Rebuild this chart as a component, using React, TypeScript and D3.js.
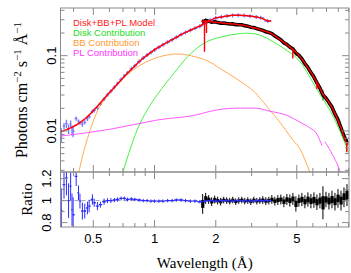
import * as d3 from "d3";

// blue (low-energy instrument) data: wavelength, model, data/model ratio, error
const blueLam = [0.348, 0.359, 0.369, 0.378, 0.387, 0.393, 0.398, 0.412, 0.423, 0.43, 0.442, 0.454, 0.468, 0.477, 0.495, 0.505, 0.524, 0.542, 0.565, 0.587, 0.61, 0.635, 0.657, 0.685, 0.71, 0.736, 0.77, 0.8, 0.84, 0.88, 0.92, 0.96, 1.0, 1.05, 1.1, 1.16, 1.22, 1.28, 1.35, 1.42, 1.5, 1.58, 1.67, 1.77, 1.88, 2.0, 2.13, 2.27, 2.42, 2.58, 2.76, 2.95, 3.16, 3.33, 3.6];
const blueModel = [0.0098, 0.0101, 0.0104, 0.0107, 0.011, 0.0112, 0.0114, 0.012, 0.0125, 0.0129, 0.0136, 0.0144, 0.0155, 0.0163, 0.018, 0.0191, 0.0213, 0.0237, 0.0268, 0.0302, 0.0338, 0.038, 0.042, 0.0475, 0.0528, 0.0585, 0.066, 0.073, 0.083, 0.093, 0.102, 0.111, 0.12, 0.13, 0.14, 0.151, 0.163, 0.175, 0.19, 0.204, 0.218, 0.232, 0.248, 0.27, 0.295, 0.318, 0.327, 0.336, 0.344, 0.345, 0.341, 0.336, 0.327, 0.318, 0.289];
const blueRatio = [0.905, 1.145, 1.205, 1.0, 1.13, 0.917, 0.872, 1.22, 1.07, 0.995, 0.905, 0.905, 0.933, 0.95, 1.01, 0.98, 0.95, 0.963, 0.99, 1.0, 1.0, 1.005, 1.01, 1.02, 1.02, 1.01, 1.015, 1.01, 1.005, 1.0, 1.0, 0.995, 0.995, 0.995, 0.995, 1.0, 1.0, 1.005, 1.005, 1.0, 0.995, 0.995, 0.99, 0.995, 1.0, 0.995, 1.0, 1.0, 0.995, 1.0, 1.0, 0.995, 1.0, 1.0, 1.0];
const blueErr = [0.2, 0.12, 0.15, 0.15, 0.12, 0.14, 0.15, 0.08, 0.06, 0.06, 0.07, 0.06, 0.05, 0.05, 0.04, 0.03, 0.03, 0.02, 0.02, 0.015, 0.015, 0.012, 0.012, 0.01, 0.01, 0.01, 0.008, 0.008, 0.008, 0.008, 0.008, 0.008, 0.008, 0.008, 0.008, 0.008, 0.008, 0.008, 0.008, 0.008, 0.008, 0.008, 0.008, 0.008, 0.008, 0.008, 0.008, 0.008, 0.008, 0.008, 0.008, 0.01, 0.01, 0.01, 0.012];

// black (high-energy instrument) data
const blackLam = [1.724, 1.783, 1.845, 1.909, 1.975, 2.043, 2.114, 2.187, 2.263, 2.342, 2.423, 2.506, 2.593, 2.683, 2.776, 2.872, 2.972, 3.074, 3.181, 3.291, 3.404, 3.523, 3.645, 3.771, 3.901, 4.036, 4.176, 4.321, 4.47, 4.624, 4.785, 4.95, 5.122, 5.298, 5.482, 5.672, 5.868, 6.071, 6.281, 6.499, 6.724, 6.957, 7.197, 7.446, 7.704, 7.971, 8.247, 8.531, 8.826];
const blackModel = [0.287, 0.288, 0.285, 0.282, 0.279, 0.276, 0.273, 0.27, 0.267, 0.265, 0.263, 0.261, 0.258, 0.256, 0.252, 0.247, 0.241, 0.236, 0.23, 0.223, 0.216, 0.209, 0.203, 0.195, 0.184, 0.172, 0.161, 0.15, 0.14, 0.13, 0.121, 0.112, 0.101, 0.09, 0.079, 0.069, 0.06, 0.052, 0.0441, 0.037, 0.0307, 0.027, 0.024, 0.0205, 0.017, 0.0138, 0.011, 0.0083, 0.0067];
const blackRatio = [0.97, 1.02, 1.01, 0.99, 1.01, 1.0, 0.99, 1.005, 1.0, 0.995, 1.005, 0.99, 1.0, 1.005, 0.995, 1.0, 0.99, 1.005, 0.995, 1.0, 1.005, 0.995, 1.0, 1.01, 0.995, 1.005, 1.01, 0.99, 1.01, 1.0, 1.015, 0.97, 1.0, 1.01, 0.99, 1.01, 0.995, 1.005, 0.985, 1.0, 0.98, 1.01, 0.995, 1.01, 0.99, 1.02, 1.0, 1.03, 1.05];
const blackErr = [0.09, 0.05, 0.04, 0.04, 0.035, 0.035, 0.035, 0.03, 0.03, 0.03, 0.03, 0.03, 0.03, 0.03, 0.03, 0.03, 0.03, 0.03, 0.03, 0.03, 0.035, 0.035, 0.035, 0.04, 0.04, 0.045, 0.045, 0.05, 0.05, 0.055, 0.055, 0.07, 0.055, 0.06, 0.06, 0.065, 0.065, 0.07, 0.07, 0.07, 0.15, 0.07, 0.075, 0.08, 0.08, 0.085, 0.09, 0.09, 0.1];

// narrow absorption features in the model
const dipLam = [1.76, 1.8, 3.04, 4.78, 6.28, 8.8];
const dipTop = [0.289, 0.288, 0.239, 0.121, 0.0441, 0.0069];
const dipBottom = [0.113, 0.2, 0.225, 0.092, 0.036, 0.0052];

// model components
const diskLam = [0.68, 0.75, 0.825, 0.92, 1.035, 1.254, 1.454, 1.763, 2.14, 2.56, 2.8, 3.11, 3.69, 4.27, 5.18, 6.28, 7.53, 9.14];
const diskFlux = [0.0022, 0.0052, 0.0106, 0.019, 0.0307, 0.0597, 0.097, 0.148, 0.178, 0.195, 0.199, 0.195, 0.162, 0.127, 0.0834, 0.0357, 0.0158, 0.0047];
const bbLam = [0.42, 0.45, 0.468, 0.5, 0.524, 0.56, 0.607, 0.66, 0.711, 0.78, 0.853, 0.95, 1.035, 1.15, 1.254, 1.35, 1.454, 1.6, 1.763, 1.95, 2.14, 2.56, 3.11, 3.56, 4.27, 4.8, 5.18, 5.6, 5.9];
const bbFlux = [0.0025, 0.0055, 0.0079, 0.0135, 0.0185, 0.025, 0.033, 0.042, 0.052, 0.064, 0.075, 0.087, 0.095, 0.102, 0.105, 0.105, 0.102, 0.096, 0.0886, 0.077, 0.0654, 0.0483, 0.0326, 0.0213, 0.0116, 0.0075, 0.0058, 0.0036, 0.0025];
const plLam = [0.34, 0.6, 1.035, 1.7, 1.763, 2.56, 3.11, 3.69, 4.5, 5.18, 5.8, 6.28, 6.65, 6.75, 6.88, 7.53, 8.15, 8.3];
const plFlux: (number | null)[] = [0.0085, 0.0105, 0.014, 0.017, 0.0175, 0.0201, 0.0201, 0.0183, 0.016, 0.0131, 0.011, 0.0091, 0.0064, null, 0.0072, 0.0047, 0.0029, 0.0024];

const xLabels = [0.5, 1, 2, 5];
const yLabels = [0.01, 0.1];
const ratioLabels = [0.8, 1, 1.2];
const ratioMinor = [0.9, 1.1];

const legend = [
  { text: "Disk+BB+PL Model", color: "#ff2020" },
  { text: "Disk Contribution", color: "#22dd22" },
  { text: "BB Contribution", color: "#ff9933" },
  { text: "PL Contribution", color: "#ff33ff" },
];

const L = 60.5, R = 349, T = 8, M = 172, B = 227;
const frame = "#8a8a8a";

function binEdges(lam: number[]) {
  return lam.map((l, i) => {
    const lo = i > 0 ? Math.sqrt(lam[i - 1] * l) : (l * l) / Math.sqrt(l * lam[1]);
    const hi = i < lam.length - 1 ? Math.sqrt(l * lam[i + 1]) : (l * l) / Math.sqrt(lam[i - 1] * l);
    return [lo, hi];
  });
}

export default function App() {
  const x = d3.scaleLog().domain([0.345, 9.03]).range([L, R]);
  const y = d3.scaleLog().domain([0.00285, 0.43]).range([M, T]);
  const yr = d3.scaleLinear().domain([0.76, 1.26]).range([B, M]);

  const xt = x.ticks().filter((t) => t > 0.345 && t < 9.03);
  const yt = y.ticks().filter((t) => t > 0.00285 && t < 0.43);
  const isMajor = (t: number, majors: number[]) => majors.some((m) => Math.abs(m - t) < 1e-9);

  const blueEdges = binEdges(blueLam);
  const blackEdges = binEdges(blackLam);

  const lineOf = (pts: [number, number][]) => d3.line()(pts) ?? "";
  // model as line through bin centres, closed off to the outer edges of the first/last bins
  const modelPath = (lam: number[], vals: number[], edges: number[][]) => {
    const n = lam.length;
    const pts: [number, number][] = [[x(edges[0][0]), y(vals[0])]];
    lam.forEach((l, i) => pts.push([x(l), y(vals[i])]));
    pts.push([x(edges[n - 1][1]), y(vals[n - 1])]);
    return lineOf(pts);
  };

  const compLine = (lam: number[], vals: (number | null)[]) =>
    d3
      .line<number>()
      .defined((i) => vals[i] != null)
      .x((i) => x(lam[i]))
      .y((i) => y(vals[i] as number))
      .curve(d3.curveMonotoneX)(lam.map((_, i) => i)) ?? "";

  const blackFluxPts: [number, number][] = blackLam.map((l, i) => [x(l), y(blackModel[i] * blackRatio[i])]);

  const sans = "Liberation Sans, Arial, sans-serif";
  const serif = "Liberation Serif, Times New Roman, serif";

  return (
    <svg width={351} height={273} style={{ position: "absolute", left: 0, top: 0 }}>
      <defs>
        <clipPath id="topClip">
          <rect x={L} y={T} width={R - L} height={M - T} />
        </clipPath>
        <clipPath id="ratClip">
          <rect x={L} y={M} width={R - L} height={B - M} />
        </clipPath>
      </defs>
      <rect width={351} height={273} fill="white" />

      {/* top panel */}
      <g clipPath="url(#topClip)">
        <path d={lineOf(blackFluxPts)} fill="none" stroke="black" strokeWidth={3.6} />
        {blackLam.map((l, i) => {
          const f = blackModel[i] * blackRatio[i];
          const e = blackErr[i];
          return (
            <line key={"bt" + i} x1={x(l)} x2={x(l)} y1={y(f * (1 + e))} y2={y(f * (1 - e))} stroke="black" strokeWidth={1} />
          );
        })}
        {blueLam.map((l, i) => {
          const f = blueModel[i] * blueRatio[i];
          const e = blueErr[i] / blueRatio[i];
          const cy = y(f);
          return (
            <g key={"bu" + i} stroke="#7878ff" strokeWidth={1.3}>
              <line x1={x(blueEdges[i][0])} x2={x(blueEdges[i][1])} y1={cy} y2={cy} />
              <line x1={x(l)} x2={x(l)} y1={Math.min(y(f * (1 + e)), cy - 2)} y2={Math.max(y(f * (1 - e)), cy + 2)} />
            </g>
          );
        })}
        <path d={compLine(diskLam, diskFlux)} fill="none" stroke="#33ee33" strokeWidth={0.9} />
        <path d={compLine(bbLam, bbFlux)} fill="none" stroke="#ffa040" strokeWidth={0.9} />
        <path d={compLine(plLam, plFlux)} fill="none" stroke="#ff44ff" strokeWidth={0.9} />
        <path d={modelPath(blueLam, blueModel, blueEdges)} fill="none" stroke="#ff0000" strokeWidth={1.5} />
        <path d={modelPath(blackLam, blackModel, blackEdges)} fill="none" stroke="#ff0000" strokeWidth={1.5} />
        {dipLam.map((l, i) => (
          <line key={"dp" + i} x1={x(l)} x2={x(l)} y1={y(dipTop[i])} y2={y(dipBottom[i])} stroke="#ff0000" strokeWidth={1.4} />
        ))}
      </g>

      {/* ratio panel */}
      <line x1={L} x2={R} y1={yr(1)} y2={yr(1)} stroke="#a0a0a0" strokeDasharray="4,3" />
      <g clipPath="url(#ratClip)">
        {blackLam.map((l, i) => {
          const r = blackRatio[i];
          const e = blackErr[i];
          const x0 = x(blackEdges[i][0]);
          const x1 = x(blackEdges[i][1]);
          return (
            <g key={"br" + i}>
              <rect x={x0} width={x1 - x0 + 0.2} y={yr(r + e * 0.4)} height={yr(r - e * 0.4) - yr(r + e * 0.4)} fill="black" />
              <line x1={x(l)} x2={x(l)} y1={yr(r + e)} y2={yr(r - e)} stroke="black" strokeWidth={1} />
            </g>
          );
        })}
        {blueLam.map((l, i) => {
          const r = blueRatio[i];
          const e = blueErr[i];
          return (
            <g key={"rb" + i} stroke="#2a2aff" strokeWidth={1}>
              <line x1={x(blueEdges[i][0])} x2={x(blueEdges[i][1])} y1={yr(r)} y2={yr(r)} strokeWidth={1.4} />
              <line x1={x(l)} x2={x(l)} y1={yr(r + e) - 0.8} y2={yr(r - e) + 0.8} />
            </g>
          );
        })}
      </g>

      {/* frames */}
      <rect x={L} y={T} width={R - L} height={M - T} fill="none" stroke={frame} />
      <rect x={L} y={M} width={R - L} height={B - M} fill="none" stroke={frame} />

      {/* x ticks */}
      {xt.map((t, i) => {
        const len = isMajor(t, xLabels) ? 7 : 4;
        const xp = x(t);
        return (
          <g key={"xt" + i} stroke={frame}>
            <line x1={xp} x2={xp} y1={T} y2={T + len} />
            <line x1={xp} x2={xp} y1={M} y2={M - len} />
            <line x1={xp} x2={xp} y1={M} y2={M + len} />
            <line x1={xp} x2={xp} y1={B} y2={B - len} />
          </g>
        );
      })}
      {/* y ticks */}
      {yt.map((t, i) => {
        const len = isMajor(t, yLabels) ? 7 : 4;
        const yp = y(t);
        return (
          <g key={"yt" + i} stroke={frame}>
            <line x1={L} x2={L + len} y1={yp} y2={yp} />
            <line x1={R} x2={R - len} y1={yp} y2={yp} />
          </g>
        );
      })}
      {[...ratioLabels, ...ratioMinor].map((t, i) => {
        const len = isMajor(t, ratioLabels) ? 7 : 4;
        const yp = yr(t);
        return (
          <g key={"rt" + i} stroke={frame}>
            <line x1={L} x2={L + len} y1={yp} y2={yp} />
            <line x1={R} x2={R - len} y1={yp} y2={yp} />
          </g>
        );
      })}

      {/* tick labels */}
      {xLabels.map((t) => (
        <text key={"xl" + t} x={x(t)} y={243} textAnchor="middle" fontFamily={sans} fontSize={13}>
          {String(t)}
        </text>
      ))}
      {yLabels.map((t) => (
        <text key={"yl" + t} transform={`translate(56,${y(t)}) rotate(-90)`} textAnchor="middle" fontFamily={sans} fontSize={13}>
          {String(t)}
        </text>
      ))}
      {ratioLabels.map((t) => (
        <text key={"rl" + t} transform={`translate(51,${yr(t)}) rotate(-90)`} textAnchor="middle" fontFamily={sans} fontSize={13}>
          {String(t)}
        </text>
      ))}

      {/* axis titles */}
      <text x={(L + R) / 2} y={268} textAnchor="middle" fontFamily={serif} fontSize={15}>
        Wavelength (Å)
      </text>
      <text transform={`translate(27,${(T + M) / 2}) rotate(-90)`} textAnchor="middle" fontFamily={serif} fontSize={16}>
        Photons cm<tspan dy={-6} fontSize={11}>−2</tspan>
        <tspan dy={6}> s</tspan>
        <tspan dy={-6} fontSize={11}>−1</tspan>
        <tspan dy={6}> Å</tspan>
        <tspan dy={-6} fontSize={11}>−1</tspan>
      </text>
      <text transform={`translate(32,${(M + B) / 2}) rotate(-90)`} textAnchor="middle" fontFamily={serif} fontSize={15}>
        Ratio
      </text>

      {/* legend */}
      {legend.map((d, i) => (
        <text key={d.text} x={73} y={26 + i * 10} fill={d.color} fontFamily={sans} fontSize={9.5}>
          {d.text}
        </text>
      ))}
    </svg>
  );
}
